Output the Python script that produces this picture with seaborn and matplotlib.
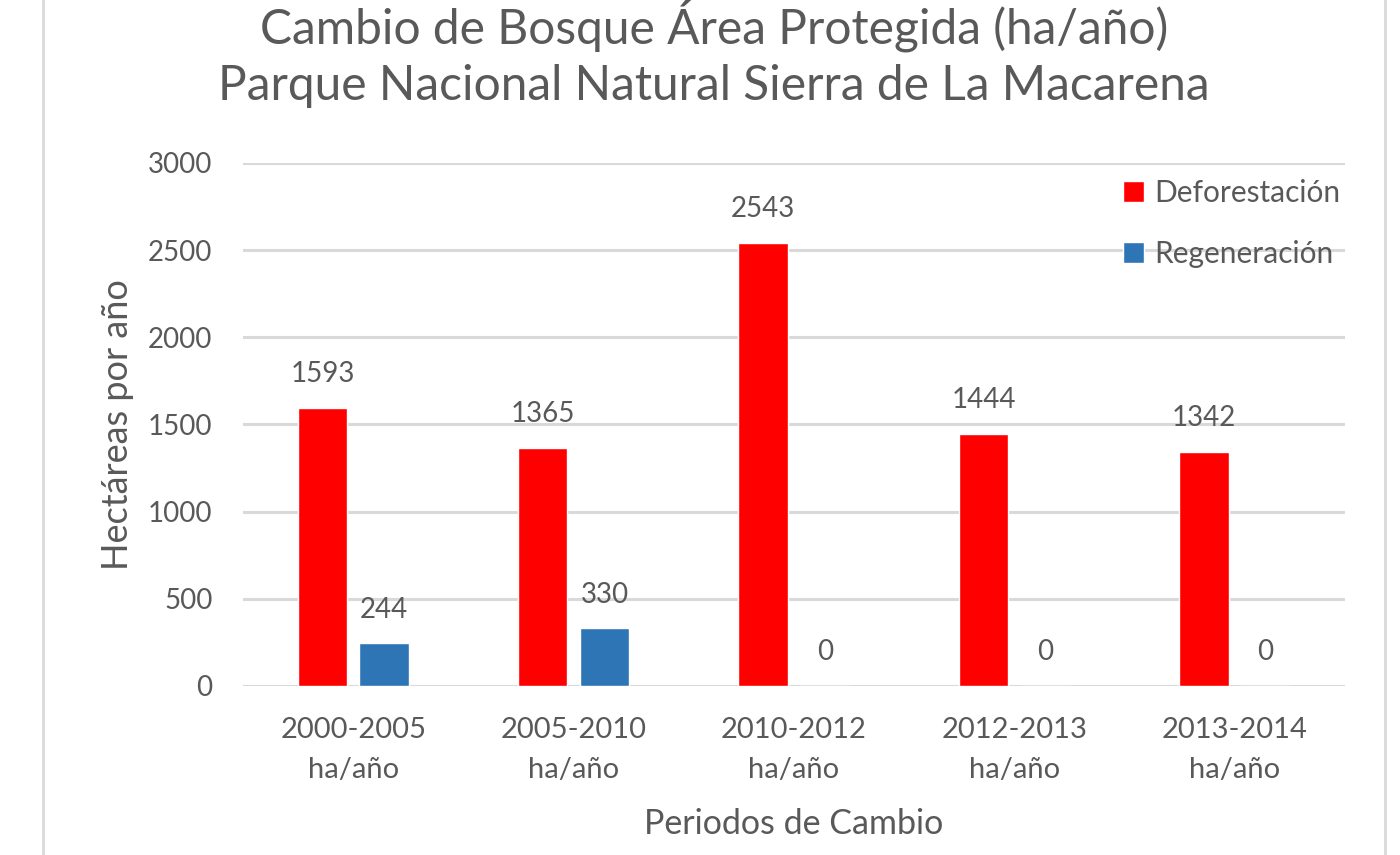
import matplotlib
matplotlib.use('Agg')
import matplotlib.pyplot as plt
import seaborn as sns
import pandas as pd
from matplotlib.lines import Line2D

# chart data
periodos = ['2000-2005\nha/año', '2005-2010\nha/año', '2010-2012\nha/año',
            '2012-2013\nha/año', '2013-2014\nha/año']
deforestacion = [1593, 1365, 2543, 1444, 1342]
regeneracion = [244, 330, 0, 0, 0]
series = ['Deforestación', 'Regeneración']
colores = ['#FF0000', '#2E75B6']

df = pd.DataFrame({
    'periodo': periodos * 2,
    'serie': [series[0]] * len(periodos) + [series[1]] * len(periodos),
    'valor': deforestacion + regeneracion,
})

sns.set_theme(style='white')
plt.rcParams['font.family'] = ['Lato', 'DejaVu Sans']
gris = '#595959'

fig = plt.figure(figsize=(14, 8.55), dpi=100)
ax = fig.add_axes([0.1736, 0.1977, 0.7871, 0.6117])

sns.barplot(data=df, x='periodo', y='valor', hue='serie', palette=colores,
            width=0.56, gap=0.2, ax=ax, saturation=1)

for cont in ax.containers:
    ax.bar_label(cont, fmt='%d', padding=15, fontsize=20, color=gris)

ax.set_ylim(0, 3000)
ax.set_yticks(range(0, 3001, 500))
ax.set_xlim(-0.5, 4.5)
ax.grid(axis='y', color='#D9D9D9', linewidth=2.2)
ax.set_axisbelow(True)
sns.despine(ax=ax, left=True, bottom=True)
ax.tick_params(axis='both', length=0, labelsize=20, labelcolor=gris)
ax.tick_params(axis='x', pad=22, labelsize=21)
ax.tick_params(axis='y', pad=22)
ax.set_xticks(range(len(periodos)))
ax.set_xticklabels(periodos, linespacing=1.7)
ax.set_xlabel('Periodos de Cambio', fontsize=24.5, color=gris, labelpad=18)
ax.set_ylabel('Hectáreas por año', fontsize=26, color=gris, labelpad=10)

leg = ax.legend(loc='upper right', bbox_to_anchor=(1.02, 1.02), frameon=False,
                fontsize=21.5, labelcolor=gris, handlelength=0.7, handleheight=0.7,
                handletextpad=0.35, labelspacing=1.1)

fig.text(0.51, 0.971, 'Cambio de Bosque Área Protegida (ha/año)',
         ha='center', va='center', fontsize=34.5, color=gris)
fig.text(0.51, 0.899, 'Parque Nacional Natural Sierra de La Macarena',
         ha='center', va='center', fontsize=34.5, color=gris)

# outer chart frame
for xf in (0.0307, 0.9893):
    fig.add_artist(Line2D([xf, xf], [0, 1], transform=fig.transFigure,
                          color='#D9D9D9', linewidth=2))

fig.savefig('out.png', dpi=100)
